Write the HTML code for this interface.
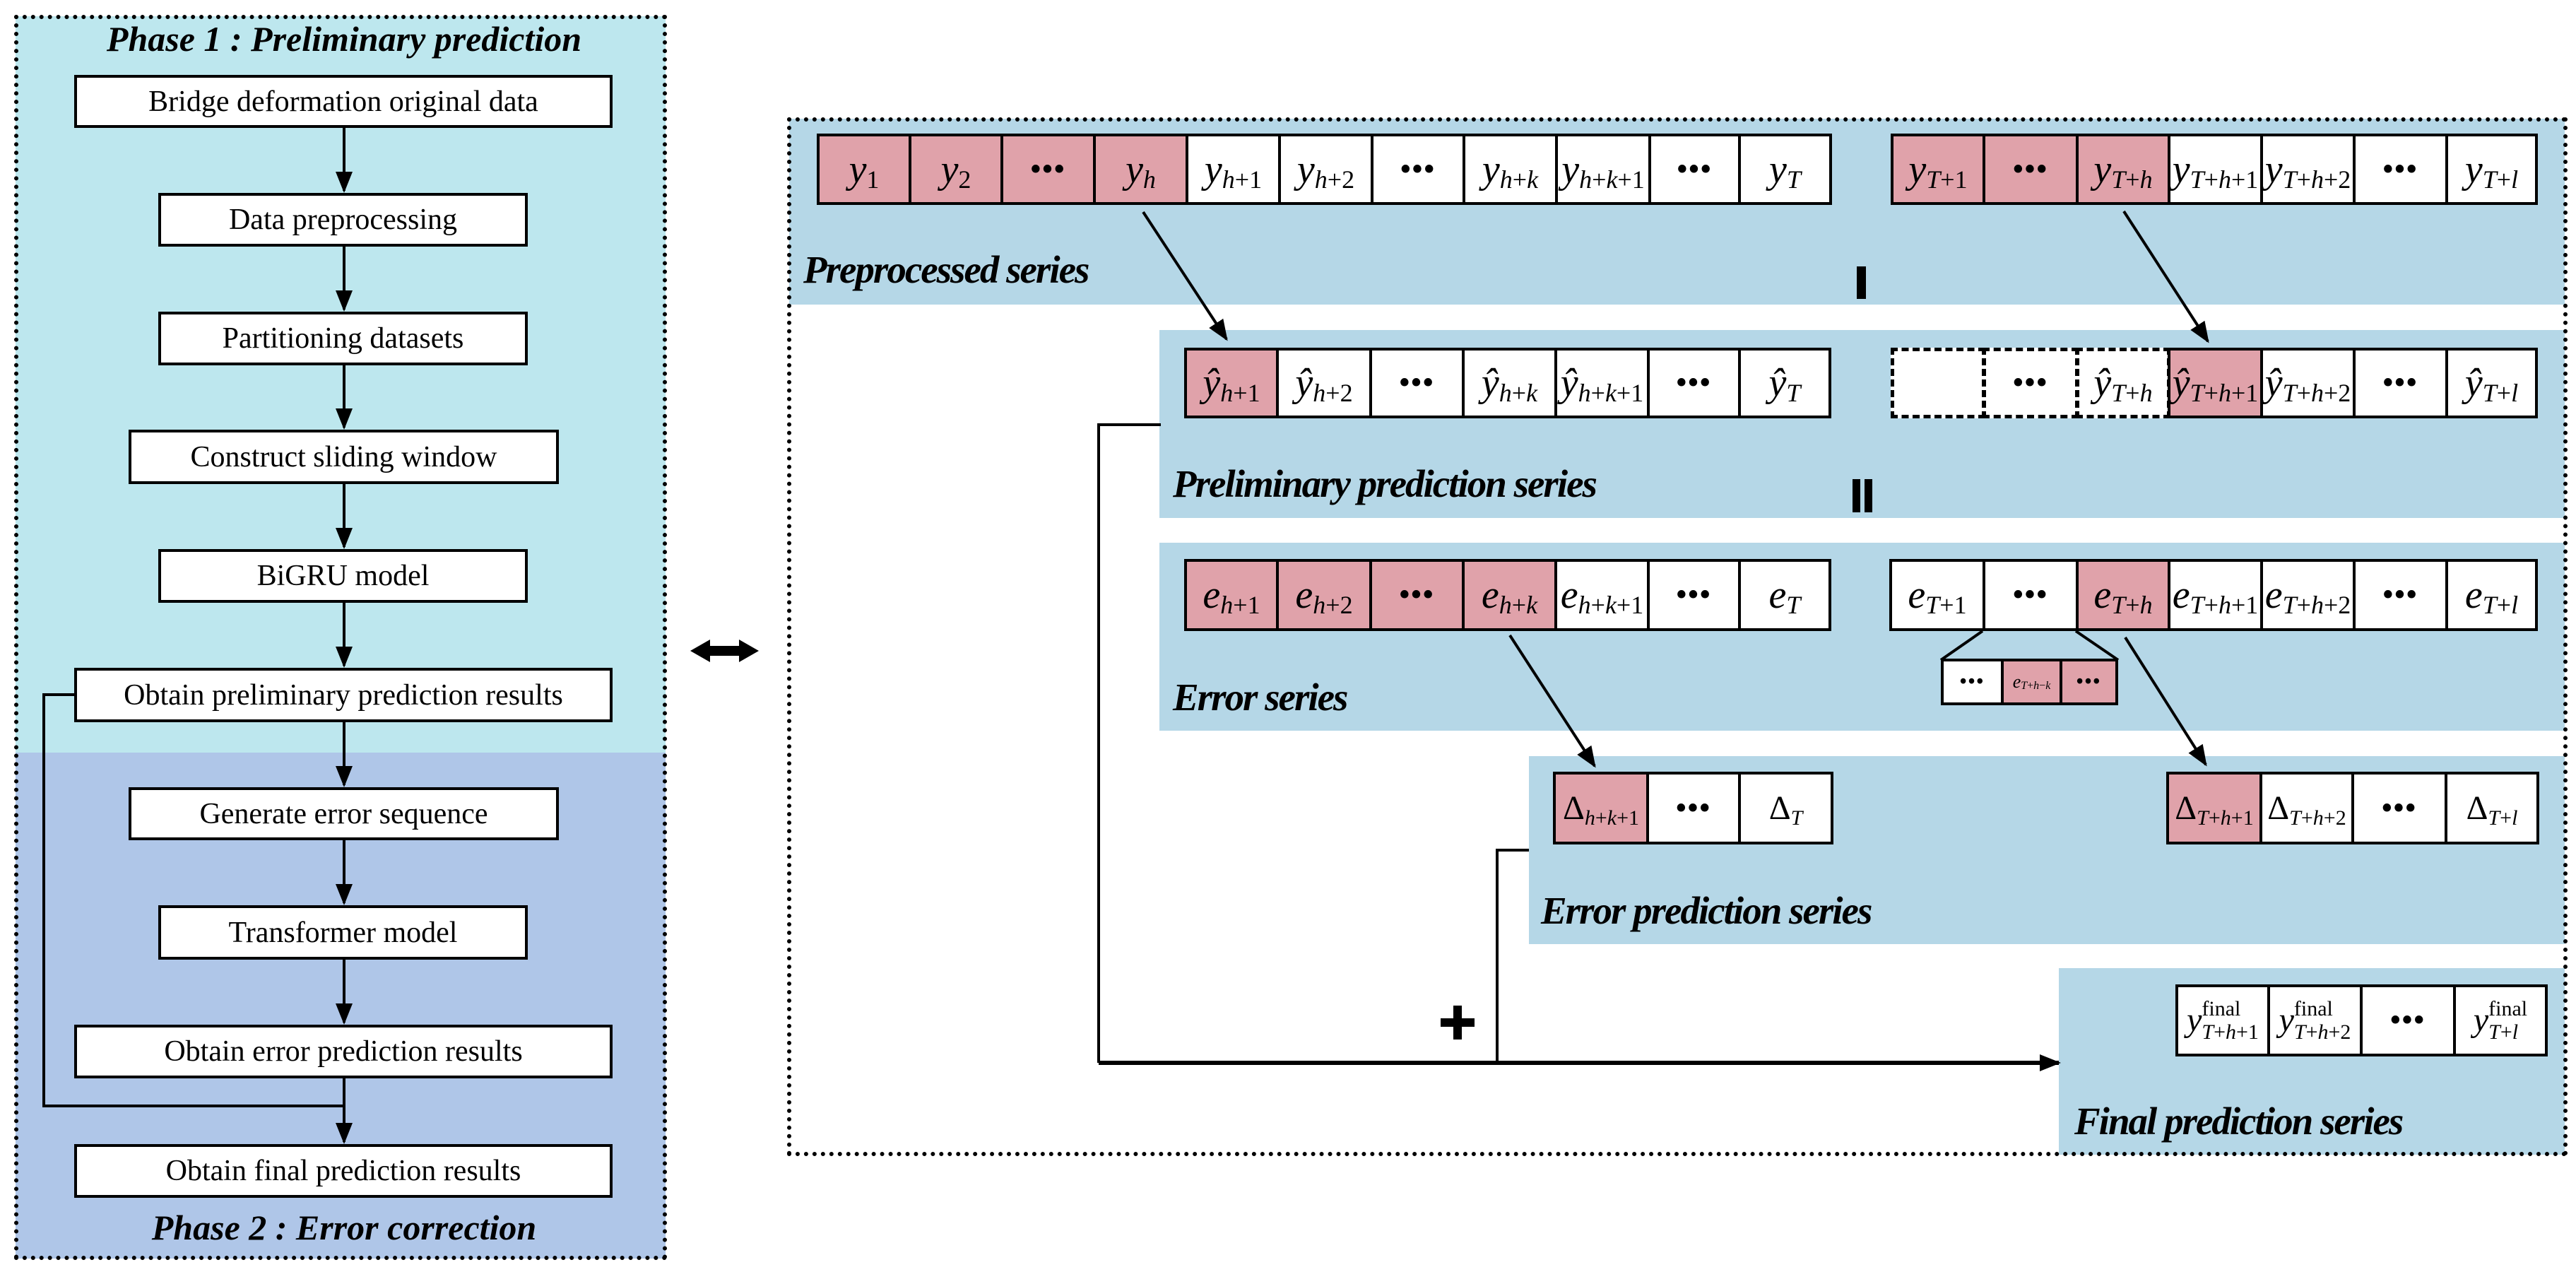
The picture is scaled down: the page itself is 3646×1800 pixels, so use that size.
<!DOCTYPE html>
<html><head><meta charset="utf-8"><style>
body{margin:0;width:3646px;height:1800px;position:relative;background:#fff;font-family:"Liberation Serif",serif;overflow:hidden}
.a{position:absolute;box-sizing:border-box}
.bx{position:absolute;box-sizing:border-box;border:4px solid #000;background:#fff;display:flex;align-items:center;justify-content:center;font-size:42px;white-space:nowrap}
.t{position:absolute;font-weight:bold;font-style:italic;font-size:50px;white-space:nowrap;transform:translateX(-50%)}
.lb{position:absolute;font-weight:bold;font-style:italic;font-size:55px;white-space:nowrap;letter-spacing:-2px}
.c{position:absolute;box-sizing:border-box;border:4px solid #000;background:#fff;display:flex;align-items:center;justify-content:center;font-size:56px;white-space:nowrap;line-height:1}
.p{background:#e0a2aa}
.d{border:5px dashed #000}
.c i{font-style:italic}
.c sub{font-size:36px;position:relative;top:14px;vertical-align:baseline}
.c sub i{font-style:italic}
.dots{font-size:42px;font-weight:bold;letter-spacing:2px}
.sm{font-size:48px}
.sm sub{font-size:30px}
.fin{display:inline-flex;align-items:center;font-style:italic}
.fin .ss{display:inline-flex;flex-direction:column;font-size:30px;line-height:1.1;font-style:normal}
</style></head><body>
<!-- left panel -->
<div class="a" style="left:22px;top:23px;width:920px;height:1042px;background:#bde7ee"></div>
<div class="a" style="left:22px;top:1065px;width:920px;height:716px;background:#afc6e8"></div>
<div class="a" style="left:20px;top:21px;width:924px;height:1762px;border:6px dotted #000"></div>
<div class="t" style="left:487px;top:26px">Phase 1 : Preliminary prediction</div>
<div class="t" style="left:487px;top:1708px">Phase 2 : Error correction</div>
<div class="bx" style="left:105px;top:106px;width:762px;height:75px">Bridge deformation original data</div>
<div class="bx" style="left:224px;top:273px;width:523px;height:76px">Data preprocessing</div>
<div class="bx" style="left:224px;top:441px;width:523px;height:76px">Partitioning datasets</div>
<div class="bx" style="left:182px;top:608px;width:609px;height:77px">Construct sliding window</div>
<div class="bx" style="left:224px;top:777px;width:523px;height:76px">BiGRU model</div>
<div class="bx" style="left:105px;top:945px;width:762px;height:77px">Obtain preliminary prediction results</div>
<div class="bx" style="left:182px;top:1114px;width:609px;height:75px">Generate error sequence</div>
<div class="bx" style="left:224px;top:1281px;width:523px;height:77px">Transformer model</div>
<div class="bx" style="left:105px;top:1450px;width:762px;height:76px">Obtain error prediction results</div>
<div class="bx" style="left:105px;top:1619px;width:762px;height:76px">Obtain final prediction results</div>

<!-- right panel bands -->
<div class="a" style="left:1117px;top:168px;width:2513px;height:263px;background:#b5d7e7"></div>
<div class="a" style="left:1641px;top:467px;width:1989px;height:266px;background:#b5d7e7"></div>
<div class="a" style="left:1641px;top:768px;width:1989px;height:266px;background:#b5d7e7"></div>
<div class="a" style="left:2164px;top:1070px;width:1466px;height:266px;background:#b5d7e7"></div>
<div class="a" style="left:2914px;top:1370px;width:716px;height:264px;background:#b5d7e7"></div>
<div class="a" style="left:1114px;top:166px;width:2520px;height:1470px;border:6px dotted #000"></div>

<div class="lb" style="left:1137px;top:350px">Preprocessed series</div>
<div class="lb" style="left:1660px;top:653px">Preliminary prediction series</div>
<div class="lb" style="left:1660px;top:955px">Error series</div>
<div class="lb" style="left:2181px;top:1257px">Error prediction series</div>
<div class="lb" style="left:2936px;top:1555px">Final prediction series</div>
<div class="a" style="left:2628px;top:377px;width:13px;height:46px;background:#000"></div>
<div class="a" style="left:2622px;top:678px;width:11px;height:47px;background:#000"></div>
<div class="a" style="left:2639px;top:678px;width:11px;height:47px;background:#000"></div>

<!-- row 1 -->
<div class="c p" style="left:1156px;top:189px;width:134px;height:101px"><i>y</i><sub>1</sub></div>
<div class="c p" style="left:1286px;top:189px;width:134px;height:101px"><i>y</i><sub>2</sub></div>
<div class="c p" style="left:1416px;top:189px;width:135px;height:101px"><span class="dots">•••</span></div>
<div class="c p" style="left:1547px;top:189px;width:135px;height:101px"><i>y</i><sub><i>h</i></sub></div>
<div class="c" style="left:1678px;top:189px;width:135px;height:101px"><i>y</i><sub><i>h</i>+1</sub></div>
<div class="c" style="left:1809px;top:189px;width:135px;height:101px"><i>y</i><sub><i>h</i>+2</sub></div>
<div class="c" style="left:1940px;top:189px;width:134px;height:101px"><span class="dots">•••</span></div>
<div class="c" style="left:2070px;top:189px;width:135px;height:101px"><i>y</i><sub><i>h</i>+<i>k</i></sub></div>
<div class="c" style="left:2201px;top:189px;width:136px;height:101px"><i>y</i><sub><i>h</i>+<i>k</i>+1</sub></div>
<div class="c" style="left:2333px;top:189px;width:131px;height:101px"><span class="dots">•••</span></div>
<div class="c" style="left:2460px;top:189px;width:133px;height:101px"><i>y</i><sub><i>T</i></sub></div>
<div class="c p" style="left:2676px;top:189px;width:134px;height:101px"><i>y</i><sub><i>T</i>+1</sub></div>
<div class="c p" style="left:2806px;top:189px;width:136px;height:101px"><span class="dots">•••</span></div>
<div class="c p" style="left:2938px;top:189px;width:134px;height:101px"><i>y</i><sub><i>T</i>+<i>h</i></sub></div>
<div class="c" style="left:3068px;top:189px;width:135px;height:101px"><i>y</i><sub><i>T</i>+<i>h</i>+1</sub></div>
<div class="c" style="left:3199px;top:189px;width:135px;height:101px"><i>y</i><sub><i>T</i>+<i>h</i>+2</sub></div>
<div class="c" style="left:3330px;top:189px;width:135px;height:101px"><span class="dots">•••</span></div>
<div class="c" style="left:3461px;top:189px;width:131px;height:101px"><i>y</i><sub><i>T</i>+<i>l</i></sub></div>

<!-- row 2 -->
<div class="c p" style="left:1676px;top:492px;width:134px;height:100px"><i>ŷ</i><sub><i>h</i>+1</sub></div>
<div class="c" style="left:1806px;top:492px;width:136px;height:100px"><i>ŷ</i><sub><i>h</i>+2</sub></div>
<div class="c" style="left:1938px;top:492px;width:135px;height:100px"><span class="dots">•••</span></div>
<div class="c" style="left:2069px;top:492px;width:135px;height:100px"><i>ŷ</i><sub><i>h</i>+<i>k</i></sub></div>
<div class="c" style="left:2200px;top:492px;width:135px;height:100px"><i>ŷ</i><sub><i>h</i>+<i>k</i>+1</sub></div>
<div class="c" style="left:2331px;top:492px;width:133px;height:100px"><span class="dots">•••</span></div>
<div class="c" style="left:2460px;top:492px;width:132px;height:100px"><i>ŷ</i><sub><i>T</i></sub></div>
<div class="c d" style="left:2676px;top:492px;width:134px;height:100px"></div>
<div class="c d" style="left:2806px;top:492px;width:136px;height:100px"><span class="dots">•••</span></div>
<div class="c d" style="left:2938px;top:492px;width:134px;height:100px"><i>ŷ</i><sub><i>T</i>+<i>h</i></sub></div>
<div class="c p" style="left:3068px;top:492px;width:135px;height:100px"><i>ŷ</i><sub><i>T</i>+<i>h</i>+1</sub></div>
<div class="c" style="left:3199px;top:492px;width:135px;height:100px"><i>ŷ</i><sub><i>T</i>+<i>h</i>+2</sub></div>
<div class="c" style="left:3330px;top:492px;width:135px;height:100px"><span class="dots">•••</span></div>
<div class="c" style="left:3461px;top:492px;width:131px;height:100px"><i>ŷ</i><sub><i>T</i>+<i>l</i></sub></div>

<!-- row 3 -->
<div class="c p" style="left:1676px;top:791px;width:134px;height:102px"><i>e</i><sub><i>h</i>+1</sub></div>
<div class="c p" style="left:1806px;top:791px;width:136px;height:102px"><i>e</i><sub><i>h</i>+2</sub></div>
<div class="c p" style="left:1938px;top:791px;width:135px;height:102px"><span class="dots">•••</span></div>
<div class="c p" style="left:2069px;top:791px;width:135px;height:102px"><i>e</i><sub><i>h</i>+<i>k</i></sub></div>
<div class="c" style="left:2200px;top:791px;width:135px;height:102px"><i>e</i><sub><i>h</i>+<i>k</i>+1</sub></div>
<div class="c" style="left:2331px;top:791px;width:133px;height:102px"><span class="dots">•••</span></div>
<div class="c" style="left:2460px;top:791px;width:132px;height:102px"><i>e</i><sub><i>T</i></sub></div>
<div class="c" style="left:2674px;top:791px;width:136px;height:102px"><i>e</i><sub><i>T</i>+1</sub></div>
<div class="c" style="left:2806px;top:791px;width:136px;height:102px"><span class="dots">•••</span></div>
<div class="c p" style="left:2938px;top:791px;width:134px;height:102px"><i>e</i><sub><i>T</i>+<i>h</i></sub></div>
<div class="c" style="left:3068px;top:791px;width:135px;height:102px"><i>e</i><sub><i>T</i>+<i>h</i>+1</sub></div>
<div class="c" style="left:3199px;top:791px;width:135px;height:102px"><i>e</i><sub><i>T</i>+<i>h</i>+2</sub></div>
<div class="c" style="left:3330px;top:791px;width:135px;height:102px"><span class="dots">•••</span></div>
<div class="c" style="left:3461px;top:791px;width:131px;height:102px"><i>e</i><sub><i>T</i>+<i>l</i></sub></div>
<!-- inset -->
<div class="c" style="left:2747px;top:932px;width:89px;height:66px"><span class="dots" style="font-size:28px">•••</span></div>
<div class="c p" style="left:2832px;top:932px;width:87px;height:66px;font-size:26px"><i>e</i><sub style="font-size:16px;top:6px"><i>T</i>+<i>h</i>−<i>k</i></sub></div>
<div class="c p" style="left:2915px;top:932px;width:83px;height:66px"><span class="dots" style="font-size:28px">•••</span></div>

<!-- row 4 -->
<div class="c p sm" style="left:2198px;top:1092px;width:136px;height:103px">Δ<sub><i>h</i>+<i>k</i>+1</sub></div>
<div class="c" style="left:2330px;top:1092px;width:134px;height:103px"><span class="dots">•••</span></div>
<div class="c sm" style="left:2460px;top:1092px;width:135px;height:103px">Δ<sub><i>T</i></sub></div>
<div class="c p sm" style="left:3066px;top:1092px;width:136px;height:103px">Δ<sub><i>T</i>+<i>h</i>+1</sub></div>
<div class="c sm" style="left:3198px;top:1092px;width:134px;height:103px">Δ<sub><i>T</i>+<i>h</i>+2</sub></div>
<div class="c" style="left:3328px;top:1092px;width:136px;height:103px"><span class="dots">•••</span></div>
<div class="c sm" style="left:3460px;top:1092px;width:134px;height:103px">Δ<sub><i>T</i>+<i>l</i></sub></div>

<!-- row 5 -->
<div class="c sm" style="left:3079px;top:1393px;width:134px;height:102px"><span class="fin"><i>y</i><span class="ss"><span>final</span><span><i>T</i>+<i>h</i>+1</span></span></span></div>
<div class="c sm" style="left:3209px;top:1393px;width:135px;height:102px"><span class="fin"><i>y</i><span class="ss"><span>final</span><span><i>T</i>+<i>h</i>+2</span></span></span></div>
<div class="c" style="left:3340px;top:1393px;width:136px;height:102px"><span class="dots">•••</span></div>
<div class="c sm" style="left:3472px;top:1393px;width:134px;height:102px"><span class="fin"><i>y</i><span class="ss"><span>final</span><span><i>T</i>+<i>l</i></span></span></span></div>

<svg class="a" style="left:0;top:0" width="3646" height="1800" viewBox="0 0 3646 1800">
<defs>
<marker id="ab" viewBox="0 0 10 8" refX="9" refY="4" markerWidth="30" markerHeight="24" orient="auto" markerUnits="userSpaceOnUse"><path d="M0,0 L10,4 L0,8 z"/></marker></defs>
<g stroke="#000" stroke-width="4" fill="none">
<line x1="487" y1="181" x2="487" y2="270" marker-end="url(#ab)"/>
<line x1="487" y1="349" x2="487" y2="438" marker-end="url(#ab)"/>
<line x1="487" y1="517" x2="487" y2="605" marker-end="url(#ab)"/>
<line x1="487" y1="685" x2="487" y2="774" marker-end="url(#ab)"/>
<line x1="487" y1="853" x2="487" y2="942" marker-end="url(#ab)"/>
<line x1="487" y1="1022" x2="487" y2="1111" marker-end="url(#ab)"/>
<line x1="487" y1="1189" x2="487" y2="1278" marker-end="url(#ab)"/>
<line x1="487" y1="1358" x2="487" y2="1447" marker-end="url(#ab)"/>
<line x1="487" y1="1526" x2="487" y2="1616" marker-end="url(#ab)"/>
<polyline points="105,983 62,983 62,1565 487,1565"/>
<line x1="1618" y1="300" x2="1736" y2="480" marker-end="url(#ab)"/>
<line x1="3006" y1="299" x2="3125" y2="483" marker-end="url(#ab)"/>
<line x1="2137" y1="899" x2="2257" y2="1084" marker-end="url(#ab)"/>
<line x1="3008" y1="902" x2="3122" y2="1082" marker-end="url(#ab)"/>
<line x1="2806" y1="893" x2="2747" y2="934"/>
<line x1="2938" y1="893" x2="2998" y2="934"/>
<polyline points="1643,601 1555,601 1555,1504"/>
<polyline points="2164,1203 2119,1203 2119,1504"/>
<line x1="1555" y1="1504" x2="2914" y2="1504" stroke-width="6" marker-end="url(#ab)"/>
</g>
<rect x="2057" y="1423" width="12" height="48" fill="#000"/>
<rect x="2039" y="1441" width="48" height="12" fill="#000"/>
<path d="M977,921 L1005,905 L1005,914 L1046,914 L1046,905 L1074,921 L1046,937 L1046,928 L1005,928 L1005,937 z" fill="#000"/>
</svg>
</body></html>
